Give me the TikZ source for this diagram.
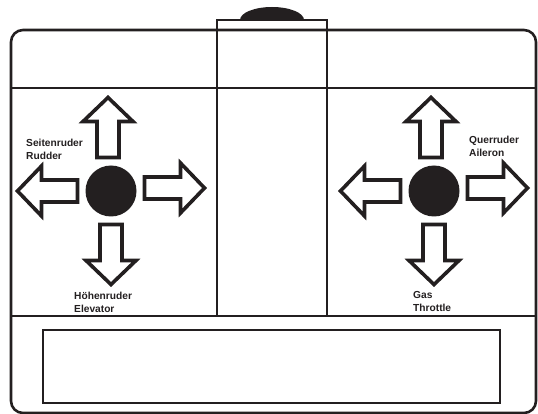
\documentclass[tikz,border=0pt]{standalone}
\usepackage{fontspec}
\setmainfont{Liberation Sans}
\definecolor{ink}{HTML}{231F20}
\tikzset{
  frameline/.style={draw=ink, line width=2.6pt},
  thinline/.style={draw=ink, line width=1.2pt},
  arrowline/.style={draw=ink, fill=white, line width=3.6pt, miter limit=10},
  stick/.style={circle, fill=ink, inner sep=0pt, minimum size=51pt},
  lbl/.style={font=\bfseries\fontsize{10.2}{12.8}\selectfont, text=ink, align=left, inner sep=0pt, anchor=base west},
  blockarrow/.pic={\path[arrowline] (33.5,-11) -- (69.5,-11) -- (69.5,-25) -- (93.5,0) -- (69.5,25) -- (69.5,11) -- (33.5,11) -- cycle;}
}
\begin{document}
\begin{tikzpicture}[x=1pt, y=-1pt]
\useasboundingbox (0,0) rectangle (538,414);
% dome on top
\begin{scope}
\clip (230,0) rectangle (315,20);
\fill[ink] (272,20) ellipse [x radius=32, y radius=13];
\end{scope}
% housing
\draw[frameline, rounded corners=12pt] (11,30) rectangle (536,413);
\draw[frameline] (11,88) -- (536,88);
\draw[frameline] (11,316) -- (536,316);
\draw[thinline] (217,20) rectangle (327,316);
\draw[thinline] (43,330) rectangle (500,403);
% sticks
\node[stick] (lstick) at (111,191) {};
\node[stick] (rstick) at (434,191) {};
\foreach \s in {lstick, rstick} {
  \pic[rotate=90] at ([xshift=-3pt]\s.center) {blockarrow};
  \pic[rotate=0] at ([yshift=3pt]\s.center) {blockarrow};
  \pic[rotate=180] at (\s.center) {blockarrow};
  \pic[rotate=270] at (\s.center) {blockarrow};
}
% labels (base = last line)
\node[lbl] (rudder) at (26,159.5) {Seitenruder\\Rudder};
\node[lbl] (elevator) at (74,312) {Höhenruder\\Elevator};
\node[lbl] (aileron) at (469,156.5) {Querruder\\Aileron};
\node[lbl] (throttle) at (413,311.5) {Gas\\Throttle};
\end{tikzpicture}
\end{document}
